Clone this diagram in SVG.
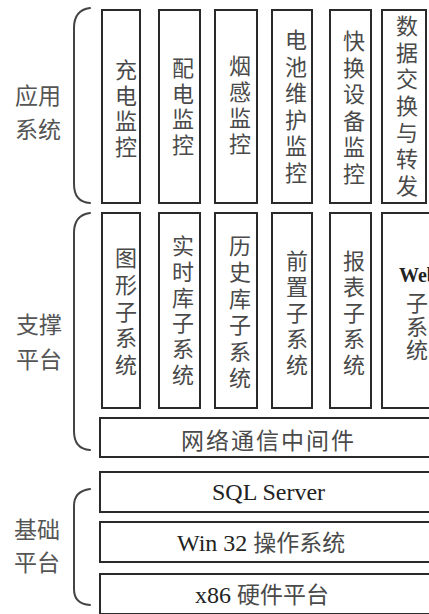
<svg xmlns="http://www.w3.org/2000/svg" width="429" height="614" viewBox="0 0 429 614">
<style>
.box{fill:#fff;stroke:#2a2a2a;stroke-width:2}
.br{fill:none;stroke:#444;stroke-width:2;stroke-linecap:round}
.cj{font-family:"Noto Sans CJK SC","Noto Sans CJK JP",sans-serif;fill:#4a4a4a;font-size:22px;text-anchor:middle}
.lb{font-family:"Noto Sans CJK SC","Noto Sans CJK JP",sans-serif;fill:#555;font-size:23px;text-anchor:middle}
.mx{font-family:"Liberation Serif","Noto Sans CJK SC",serif;fill:#222;font-size:24px}
.mx tspan.c{font-family:"Noto Sans CJK SC","Noto Sans CJK JP",sans-serif;fill:#4a4a4a;font-size:23px}
</style>
<rect width="429" height="614" fill="#fff"/>
<g id="brackets">
<path class="br" d="M90 8 Q74 10 74 28 L74 184 Q74 202 90 203"/>
<path class="br" d="M90 213 Q74 215 74 233 L74 431 Q74 449 90 450"/>
<path class="br" d="M90 489 Q74 491 74 506 L74 589 Q74 604 90 605"/>
</g>
<g id="label-app"><text class="lb" x="38" y="104">应用</text><text class="lb" x="38" y="138">系统</text></g>
<g id="label-support"><text class="lb" x="39" y="333">支撑</text><text class="lb" x="39" y="368">平台</text></g>
<g id="label-base"><text class="lb" x="37" y="538">基础</text><text class="lb" x="37" y="571">平台</text></g>

<g id="app1"><rect class="box" x="102" y="10" width="38" height="193"/>
<text class="cj"><tspan x="126" y="78">充</tspan><tspan x="126" y="103.5">电</tspan><tspan x="126" y="129">监</tspan><tspan x="126" y="154.5">控</tspan></text></g>
<g id="app2"><rect class="box" x="159" y="10" width="41" height="193"/>
<text class="cj"><tspan x="183" y="76">配</tspan><tspan x="183" y="101.5">电</tspan><tspan x="183" y="127">监</tspan><tspan x="183" y="152.5">控</tspan></text></g>
<g id="app3"><rect class="box" x="215" y="10" width="42" height="193"/>
<text class="cj"><tspan x="240" y="74">烟</tspan><tspan x="240" y="100">感</tspan><tspan x="240" y="126">监</tspan><tspan x="240" y="152">控</tspan></text></g>
<g id="app4"><rect class="box" x="272" y="10" width="40" height="193"/>
<text class="cj"><tspan x="296" y="48">电</tspan><tspan x="296" y="74.5">池</tspan><tspan x="296" y="101">维</tspan><tspan x="296" y="127.5">护</tspan><tspan x="296" y="154">监</tspan><tspan x="296" y="180.5">控</tspan></text></g>
<g id="app5"><rect class="box" x="330" y="10" width="41" height="193"/>
<text class="cj"><tspan x="354" y="49">快</tspan><tspan x="354" y="75.5">换</tspan><tspan x="354" y="102">设</tspan><tspan x="354" y="128.5">备</tspan><tspan x="354" y="155">监</tspan><tspan x="354" y="181.5">控</tspan></text></g>
<g id="app6"><rect class="box" x="382" y="10" width="44" height="193"/>
<text class="cj"><tspan x="407" y="34">数</tspan><tspan x="407" y="60.7">据</tspan><tspan x="407" y="87.3">交</tspan><tspan x="407" y="114">换</tspan><tspan x="407" y="140.7">与</tspan><tspan x="407" y="167.3">转</tspan><tspan x="407" y="194">发</tspan></text></g>

<g id="sup1"><rect class="box" x="102" y="213" width="38" height="195"/>
<text class="cj"><tspan x="126" y="266">图</tspan><tspan x="126" y="292.7">形</tspan><tspan x="126" y="319.5">子</tspan><tspan x="126" y="346.2">系</tspan><tspan x="126" y="373">统</tspan></text></g>
<g id="sup2"><rect class="box" x="159" y="213" width="41" height="195"/>
<text class="cj"><tspan x="183" y="254">实</tspan><tspan x="183" y="279.8">时</tspan><tspan x="183" y="305.6">库</tspan><tspan x="183" y="331.4">子</tspan><tspan x="183" y="357.2">系</tspan><tspan x="183" y="383">统</tspan></text></g>
<g id="sup3"><rect class="box" x="215" y="213" width="42" height="195"/>
<text class="cj"><tspan x="240" y="254">历</tspan><tspan x="240" y="280.4">史</tspan><tspan x="240" y="306.8">库</tspan><tspan x="240" y="333.2">子</tspan><tspan x="240" y="359.6">系</tspan><tspan x="240" y="386">统</tspan></text></g>
<g id="sup4"><rect class="box" x="272" y="213" width="40" height="195"/>
<text class="cj"><tspan x="297" y="269">前</tspan><tspan x="297" y="295">置</tspan><tspan x="297" y="321">子</tspan><tspan x="297" y="347">系</tspan><tspan x="297" y="373">统</tspan></text></g>
<g id="sup5"><rect class="box" x="330" y="213" width="41" height="195"/>
<text class="cj"><tspan x="354" y="269">报</tspan><tspan x="354" y="295">表</tspan><tspan x="354" y="321">子</tspan><tspan x="354" y="347">系</tspan><tspan x="354" y="373">统</tspan></text></g>
<g id="sup6"><rect class="box" x="382" y="213" width="60" height="195"/>
<text x="399" y="282" font-family="Liberation Serif, serif" font-weight="bold" font-size="20" fill="#222">Web</text>
<text class="cj"><tspan x="417" y="311">子</tspan><tspan x="417" y="334.5">系</tspan><tspan x="417" y="358">统</tspan></text></g>

<g id="middleware"><rect class="box" x="100" y="418" width="342" height="39"/>
<text class="cj" style="text-anchor:start;letter-spacing:2px;font-size:23px" x="181" y="449">网络通信中间件</text></g>
<g id="sql"><rect class="box" x="100" y="472" width="342" height="40"/>
<text class="mx" x="212" y="500">SQL Server</text></g>
<g id="win"><rect class="box" x="100" y="522" width="342" height="40"/>
<text class="mx" x="177" y="551">Win 32 <tspan class="c">操作系统</tspan></text></g>
<g id="hw"><rect class="box" x="100" y="574" width="342" height="40"/>
<text class="mx" x="195" y="603">x86 <tspan class="c">硬件平台</tspan></text></g>
</svg>
